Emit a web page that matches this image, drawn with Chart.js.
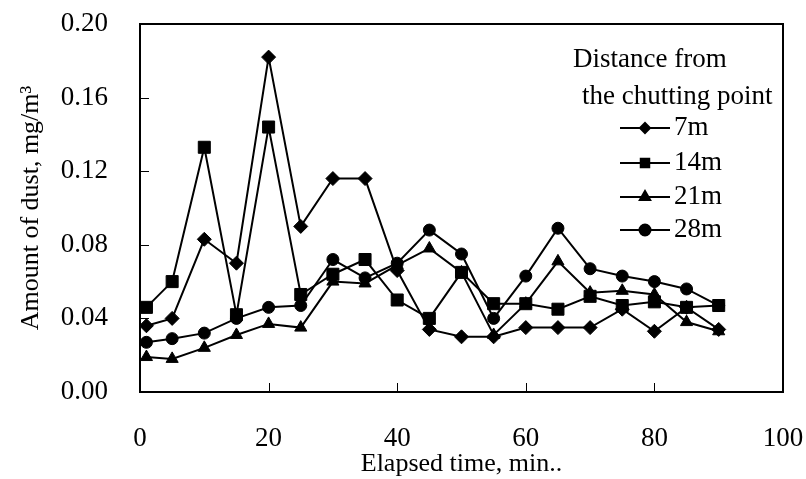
<!DOCTYPE html>
<html>
<head>
<meta charset="utf-8">
<script src="https://cdn.jsdelivr.net/npm/chart.js"></script>
<style>
  html, body { margin: 0; padding: 0; background: #fff; }
</style>
</head>
<body>
<canvas id="dustChart" width="806" height="479"></canvas>
<script>
// elapsed time (min) and dust readings (mg/m3) at each distance
var times = [1, 5, 10, 15, 20, 25, 30, 35, 40, 45, 50, 55, 60, 65, 70, 75, 80, 85, 90];
var dust7m  = [0.036, 0.040, 0.083, 0.070, 0.182, 0.090, 0.116, 0.116, 0.066, 0.034, 0.030, 0.030, 0.035, 0.035, 0.035, 0.045, 0.033, 0.046, 0.034];
var dust14m = [0.046, 0.060, 0.133, 0.042, 0.144, 0.053, 0.064, 0.072, 0.050, 0.040, 0.065, 0.048, 0.048, 0.045, 0.052, 0.047, 0.049, 0.046, 0.047];
var dust21m = [0.019, 0.018, 0.024, 0.031, 0.037, 0.035, 0.060, 0.059, 0.069, 0.078, 0.065, 0.031, 0.048, 0.071, 0.054, 0.055, 0.053, 0.038, 0.033];
var dust28m = [0.027, 0.029, 0.032, 0.040, 0.046, 0.047, 0.072, 0.062, 0.070, 0.088, 0.075, 0.040, 0.063, 0.089, 0.067, 0.063, 0.060, 0.056, 0.047];
var seriesNames = ['7m', '14m', '21m', '28m'];
var xTicks = [0, 20, 40, 60, 80, 100];
var yTicks = [0, 0.04, 0.08, 0.12, 0.16, 0.20];

var serif = '"Liberation Serif", "Times New Roman", serif';

function pts(vals) {
  return vals.map(function (v, i) { return { x: times[i], y: v }; });
}

function makeSet(label, vals, style, r) {
  return {
    label: label,
    data: pts(vals),
    borderColor: '#000',
    backgroundColor: '#000',
    borderWidth: 2,
    pointStyle: style,
    pointRadius: r,
    pointBorderWidth: 1,
    pointBorderColor: '#000',
    pointBackgroundColor: '#000',
    tension: 0,
    fill: false
  };
}

function noPad(s) {
  s.paddingTop = 0; s.paddingBottom = 0; s.paddingLeft = 0; s.paddingRight = 0;
}

// box, inward tick marks and the legend inside the plot
var framePlugin = {
  id: 'frame',
  afterDraw: function (chart) {
    var c = chart.ctx, a = chart.chartArea;
    var xs = chart.scales.x, ys = chart.scales.y;
    c.save();
    c.strokeStyle = '#000';
    c.lineWidth = 2;
    c.strokeRect(a.left, a.top, a.right - a.left, a.bottom - a.top);
    c.lineWidth = 1;
    c.beginPath();
    yTicks.forEach(function (v) {
      var y = Math.round(ys.getPixelForValue(v)) + 0.5;
      c.moveTo(a.left, y); c.lineTo(a.left + 9, y);
    });
    xTicks.forEach(function (v) {
      var x = Math.round(xs.getPixelForValue(v)) + 0.5;
      c.moveTo(x, a.bottom); c.lineTo(x, a.bottom - 9);
    });
    c.stroke();

    c.fillStyle = '#000';
    c.font = '27px ' + serif;
    c.textBaseline = 'middle';
    c.textAlign = 'left';
    c.fillText('Distance from', 573, 60);
    c.fillText('the chutting point', 582, 97);
    var rowY = [128, 163, 197, 230];
    var sizes = [5, 6, 6, 5.5];
    chart.data.datasets.forEach(function (ds, i) {
      var y = rowY[i];
      c.lineWidth = 2;
      c.beginPath();
      c.moveTo(620, y); c.lineTo(670, y);
      c.stroke();
      Chart.helpers.drawPoint(c, { pointStyle: ds.pointStyle, radius: sizes[i], rotation: 0, borderWidth: 1 }, 645, y);
      c.fill();
      c.fillText(ds.label, 674, y);
    });
    c.restore();
  }
};

var ctx = document.getElementById('dustChart').getContext('2d');
var dustChart = new Chart(ctx, {
  type: 'line',
  data: {
    datasets: [
      makeSet(seriesNames[0], dust7m, 'rectRot', 7),
      makeSet(seriesNames[1], dust14m, 'rect', 8.5),
      makeSet(seriesNames[2], dust21m, 'triangle', 7),
      makeSet(seriesNames[3], dust28m, 'circle', 6)
    ]
  },
  options: {
    responsive: false,
    animation: false,
    layout: { padding: { top: 24, right: 23, left: 0, bottom: 0 } },
    plugins: {
      legend: { display: false },
      tooltip: { enabled: false }
    },
    scales: {
      x: {
        type: 'linear',
        min: 0,
        max: 100,
        afterBuildTicks: function (s) { s.ticks = xTicks.map(function (v) { return { value: v }; }); },
        afterFit: function (s) { s.height = 87; noPad(s); },
        grid: { display: false, drawTicks: false },
        border: { display: false },
        ticks: { color: '#000', font: { family: serif, size: 27 }, padding: 31, maxRotation: 0 },
        title: {
          display: true,
          text: 'Elapsed time, min..',
          color: '#000',
          font: { family: serif, size: 26 },
          padding: { top: 0, bottom: -1 }
        }
      },
      y: {
        min: 0,
        max: 0.2,
        afterBuildTicks: function (s) { s.ticks = yTicks.map(function (v) { return { value: v }; }); },
        afterFit: function (s) { s.width = 140; noPad(s); },
        grid: { display: false, drawTicks: false },
        border: { display: false },
        ticks: {
          color: '#000',
          font: { family: serif, size: 27 },
          padding: 32,
          callback: function (v) { return Number(v).toFixed(2); }
        },
        title: {
          display: true,
          text: 'Amount of dust, mg/m\u00B3',
          color: '#000',
          font: { family: serif, size: 26 },
          padding: { top: 16, bottom: 0 }
        }
      }
    }
  },
  plugins: [framePlugin]
});
</script>
</body>
</html>
